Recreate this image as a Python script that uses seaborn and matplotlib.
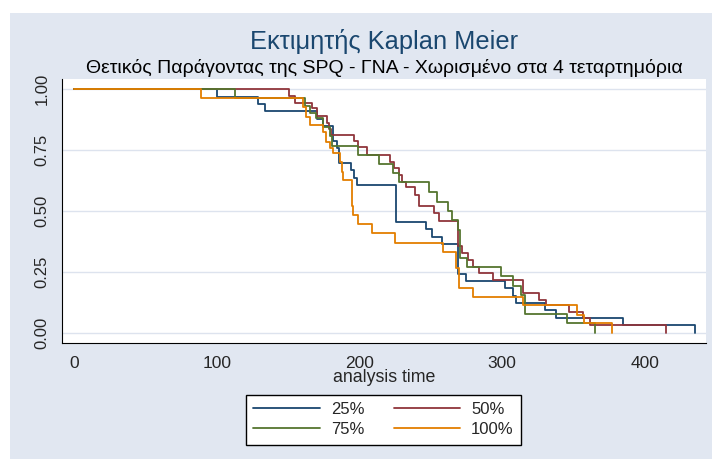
import numpy as np
import pandas as pd
import matplotlib
matplotlib.use("Agg")
import matplotlib.pyplot as plt
from matplotlib.patches import Rectangle
from matplotlib.lines import Line2D
import seaborn as sns

# ---- data (Kaplan-Meier step curves) ----
groups = ["25%", "50%", "75%", "100%"]

t_25 = [0, 100, 129, 134, 170, 174.8, 181.8, 184.2, 186.1, 194, 196, 198.3, 225.5, 247, 251,
        258, 269.5, 275, 302, 308, 309.5, 330, 338, 385, 435]
s_25 = [1.0, 0.970, 0.939, 0.909, 0.879, 0.848, 0.788, 0.758, 0.697, 0.667, 0.636, 0.606, 0.455, 0.424, 0.394,
        0.364, 0.242, 0.212, 0.182, 0.152, 0.121, 0.091, 0.061, 0.030, 0.0]

t_50 = [0, 151, 155, 167, 170, 177, 178.5, 180, 196, 199.4, 205.3, 221.6, 224.4, 227.5, 229.8, 232.8,
        239, 241.5, 252, 256, 269.5, 272, 276.5, 280, 284, 294, 315, 325.6, 331, 347, 357, 362, 415]
s_50 = [1.0, 0.972, 0.945, 0.922, 0.891, 0.862, 0.836, 0.812, 0.788, 0.764, 0.730, 0.702, 0.675, 0.648, 0.620, 0.600,
        0.566, 0.518, 0.490, 0.460, 0.354, 0.326, 0.298, 0.271, 0.243, 0.215, 0.161, 0.134, 0.113, 0.086, 0.058,
        0.029, 0.0]

t_75 = [0, 113, 162, 165.5, 169.5, 174.8, 179.5, 180.7, 199.4, 213.5, 223.9, 227.5, 248.5, 254.3, 262.5,
        264.9, 269.5, 270.3, 275.5, 299.2, 307.6, 313, 316.3, 345.5, 365.4]
s_75 = [1.0, 0.963, 0.929, 0.901, 0.881, 0.846, 0.808, 0.768, 0.730, 0.694, 0.657, 0.617, 0.576, 0.538, 0.500,
        0.462, 0.423, 0.308, 0.269, 0.231, 0.192, 0.154, 0.077, 0.038, 0.0]

t_100 = [0, 89, 160.8, 162.7, 165.5, 174.8, 176.7, 179.5, 181.8, 186.5, 187.7, 188.4, 194.7, 195.9, 198.8, 208.8,
         225.1, 259, 267.5, 269.6, 280, 315, 352.5, 357.5, 377]
s_100 = [1.0, 0.963, 0.925, 0.887, 0.853, 0.824, 0.785, 0.757, 0.737, 0.702, 0.660, 0.627, 0.518, 0.483, 0.445,
         0.408, 0.370, 0.333, 0.264, 0.182, 0.148, 0.113, 0.074, 0.038, 0.0]

x_ticks = [0, 100, 200, 300, 400]
y_ticks = [0.0, 0.25, 0.5, 0.75, 1.0]
y_ticklabels = ["0.00", "0.25", "0.50", "0.75", "1.00"]

colors = ["#1A476F", "#90353B", "#55752F", "#E37E00"]

frames = []
for g, t, s in zip(groups, [t_25, t_50, t_75, t_100], [s_25, s_50, s_75, s_100]):
    frames.append(pd.DataFrame({"time": t, "surv": s, "group": g}))
df = pd.concat(frames, ignore_index=True)

# ---- figure ----
sns.set_theme(style="white")
plt.rcParams["font.family"] = ["Liberation Sans", "DejaVu Sans"]

W, H = 712, 459
fig = plt.figure(figsize=(W / 100, H / 100), dpi=100)
fig.patch.set_facecolor("white")
bg = "#E1E7F1"
fig.add_artist(Rectangle((10 / W, 0), 1 - 10 / W, 1 - 13 / H, transform=fig.transFigure,
                         facecolor=bg, edgecolor="none", zorder=0))

ax = fig.add_axes([62 / W, 1 - 343 / H, (706 - 62) / W, (343 - 79) / H])
ax.set_facecolor("white")

for yv in y_ticks:
    ax.axhline(yv, color="#DDE3EE", lw=1.0, zorder=1)

sns.lineplot(data=df, x="time", y="surv", hue="group", hue_order=groups, palette=colors,
             estimator=None, sort=False, drawstyle="steps-post", linewidth=1.3,
             legend=False, ax=ax, zorder=3)

ax.set_xlim(-8.4, 443)
ax.set_ylim(-0.043, 1.042)
ax.set_xticks(x_ticks)
ax.set_xticklabels([str(v) for v in x_ticks], fontsize=12.5)
ax.set_yticks(y_ticks)
ax.set_yticklabels(y_ticklabels, fontsize=12, rotation=90, va="center")
ax.tick_params(axis="both", direction="out", length=5, width=0.8, color="black", pad=4)
for side in ["top", "right"]:
    ax.spines[side].set_visible(False)
for side in ["left", "bottom"]:
    ax.spines[side].set_color("black")
    ax.spines[side].set_linewidth(0.8)
ax.set_xlabel("analysis time", fontsize=12.8, labelpad=-1)
ax.set_ylabel("")
ax.grid(False)

fig.text(384 / W, 1 - 42 / H, "Εκτιμητής Kaplan Meier", ha="center", va="center",
         fontsize=18.3, color="#1A476F")
fig.text(384 / W, 1 - 68 / H, "Θετικός Παράγοντας της SPQ - ΓΝΑ - Χωρισμένο στα 4 τεταρτημόρια",
         ha="center", va="center", fontsize=14, color="black")

# legend filled row-wise: 25%, 50% / 75%, 100%
order = [0, 2, 1, 3]
handles = [Line2D([0], [0], color=colors[i], lw=1.3) for i in order]
labels = [groups[i] for i in order]
leg = fig.legend(handles, labels, loc="center", bbox_to_anchor=(383.5 / W, 1 - 419.5 / H),
                 ncol=2, fontsize=12, frameon=True, fancybox=False, framealpha=1,
                 edgecolor="black", handlelength=4.0, handletextpad=0.66, columnspacing=1.75,
                 labelspacing=0.3, borderpad=0.45)
leg.get_frame().set_linewidth(1.0)

fig.savefig("out.png", dpi=100, facecolor=fig.get_facecolor())
